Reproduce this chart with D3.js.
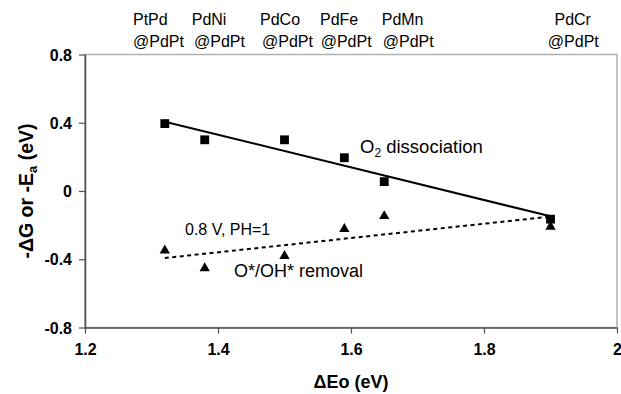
<!DOCTYPE html>
<html>
<head>
<meta charset="utf-8">
<script src="https://cdn.jsdelivr.net/npm/d3@7"></script>
<style>
  html, body { margin: 0; padding: 0; background: #fff; }
  svg { display: block; font-family: Arial, "Liberation Sans", sans-serif; }
</style>
</head>
<body>
<svg id="chart" width="621" height="394"></svg>
<script>
// ---- data ----
const deltaEo = [1.32, 1.38, 1.50, 1.59, 1.65, 1.90];
const o2Dissociation = [0.395, 0.30, 0.30, 0.195, 0.055, -0.165];
const ohRemoval = [-0.349, -0.453, -0.381, -0.223, -0.147, -0.209];
const catalystTop = ["PtPd", "PdNi", "PdCo", "PdFe", "PdMn", "PdCr"];
const catalystBottom = ["@PdPt", "@PdPt", "@PdPt", "@PdPt", "@PdPt", "@PdPt"];
const xTicks = [1.2, 1.4, 1.6, 1.8, 2];
const yTicks = [0.8, 0.4, 0, -0.4, -0.8];
const xTickLabels = ["1.2", "1.4", "1.6", "1.8", "2"];
const yTickLabels = ["0.8", "0.4", "0", "-0.4", "-0.8"];
// label anchor positions in ΔEo units (left edge of text)
const labelX1 = [1.2722, 1.3605, 1.4632, 1.5534, 1.6462, 1.906];
const labelX2 = [1.2722, 1.3639, 1.4662, 1.5544, 1.6477, 1.896];

// ---- layout ----
const svg = d3.select("#chart");
const pLeft = 85, pRight = 617, pTop = 54.5, pBottom = 327.5;
const x = d3.scaleLinear().domain([1.2, 2]).range([pLeft, pRight]);
const y = d3.scaleLinear().domain([-0.8, 0.8]).range([pBottom, pTop]);

// plot area border (top/right)
svg.append("rect")
  .attr("x", pLeft).attr("y", pTop)
  .attr("width", pRight - pLeft).attr("height", pBottom - pTop)
  .attr("fill", "none").attr("stroke", "#b0b0b0").attr("stroke-width", 1.5);

// axes
const xAxis = d3.axisBottom(x).tickValues(xTicks).tickSize(6).tickFormat((d, i) => xTickLabels[i]);
const yAxis = d3.axisLeft(y).tickValues(yTicks).tickSize(6).tickFormat((d, i) => yTickLabels[i]);

const gx = svg.append("g").attr("transform", `translate(0,${pBottom})`).call(xAxis);
const gy = svg.append("g").attr("transform", `translate(${pLeft},0)`).call(yAxis);
[gx, gy].forEach(g => {
  g.select(".domain").attr("stroke", "#505050").attr("stroke-width", 1.6);
  g.selectAll(".tick line").attr("stroke", "#505050").attr("stroke-width", 1.2);
  g.selectAll(".tick text")
    .attr("fill", "#000").attr("font-size", 16).attr("font-weight", "bold")
    .attr("font-family", "Arial, 'Liberation Sans', sans-serif");
});
gx.select(".domain").attr("d", `M${pLeft},0.5H${pRight}`);
gy.select(".domain").attr("d", `M0.5,${pTop}V${pBottom}`);
gx.selectAll(".tick text").attr("dy", "1.15em");
gy.selectAll(".tick text").attr("x", -13).attr("dy", "0.35em");

// linear regression trendlines
function fit(xs, ys) {
  const mx = d3.mean(xs), my = d3.mean(ys);
  let sxy = 0, sxx = 0;
  xs.forEach((v, i) => { sxy += (v - mx) * (ys[i] - my); sxx += (v - mx) * (v - mx); });
  const b = sxy / sxx, a = my - b * mx;
  return v => a + b * v;
}
const xExt = d3.extent(deltaEo);
const line = d3.line().x(d => x(d[0])).y(d => y(d[1]));
const f1 = fit(deltaEo, o2Dissociation);
const f2 = fit(deltaEo, ohRemoval);
svg.append("path")
  .attr("d", line(xExt.map(v => [v, f1(v)])))
  .attr("stroke", "#000").attr("stroke-width", 2).attr("fill", "none");
svg.append("path")
  .attr("d", line(xExt.map(v => [v, f2(v)])))
  .attr("stroke", "#000").attr("stroke-width", 2).attr("fill", "none")
  .attr("stroke-dasharray", "4,3.5");

// markers
svg.append("g").selectAll("path")
  .data(deltaEo.map((v, i) => [v, o2Dissociation[i]]))
  .join("path")
  .attr("d", d3.symbol().type(d3.symbolSquare).size(78))
  .attr("transform", d => `translate(${x(d[0])},${y(d[1])})`)
  .attr("fill", "#000");
svg.append("g").selectAll("path")
  .data(deltaEo.map((v, i) => [v, ohRemoval[i]]))
  .join("path")
  .attr("d", d3.symbol().type(d3.symbolTriangle).size(46))
  .attr("transform", d => `translate(${x(d[0])},${y(d[1])})`)
  .attr("fill", "#000");

// catalyst labels at top
svg.append("g").selectAll("text")
  .data(catalystTop)
  .join("text")
  .attr("x", (d, i) => x(labelX1[i]))
  .attr("y", 25)
  .attr("font-size", 16)
  .text(d => d);
svg.append("g").selectAll("text")
  .data(catalystBottom)
  .join("text")
  .attr("x", (d, i) => x(labelX2[i]))
  .attr("y", 47)
  .attr("font-size", 16)
  .text(d => d);

// series annotations
const t1 = svg.append("text").attr("x", 360).attr("y", 153).attr("font-size", 18.5);
t1.append("tspan").text("O");
t1.append("tspan").attr("font-size", 12).attr("dy", 4).text("2");
t1.append("tspan").attr("dy", -4).text(" dissociation");

svg.append("text").attr("x", 185).attr("y", 235).attr("font-size", 16).text("0.8 V, PH=1");
svg.append("text").attr("x", 234).attr("y", 277).attr("font-size", 18).text("O*/OH* removal");

// axis titles
svg.append("text")
  .attr("x", (pLeft + pRight) / 2).attr("y", 388)
  .attr("text-anchor", "middle").attr("font-size", 18).attr("font-weight", "bold")
  .text("ΔEo (eV)");

const yt = svg.append("text")
  .attr("transform", `translate(33,${(pTop + pBottom) / 2}) rotate(-90)`)
  .attr("text-anchor", "middle").attr("font-size", 19.5).attr("font-weight", "bold");
yt.append("tspan").text("-ΔG or -E");
yt.append("tspan").attr("font-size", 13).attr("dy", 4).text("a");
yt.append("tspan").attr("dy", -4).text(" (eV)");
</script>
</body>
</html>
